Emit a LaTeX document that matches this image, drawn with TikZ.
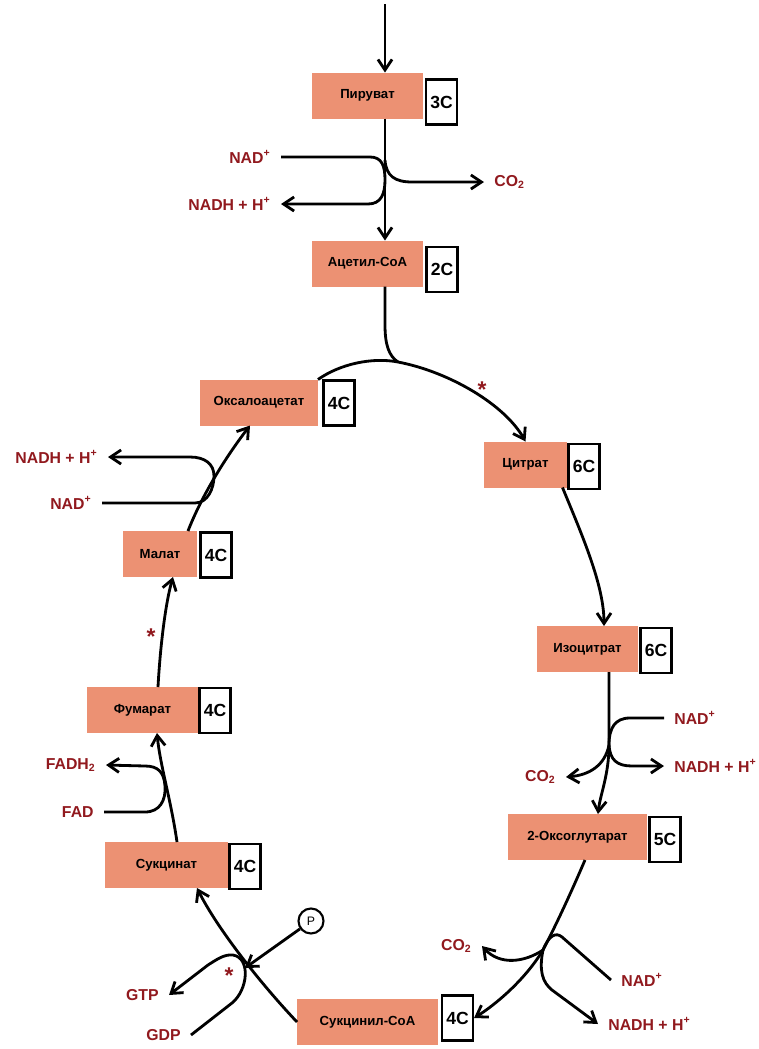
\documentclass[tikz,border=0pt]{standalone}
\usepackage{fontspec}
\setmainfont{Liberation Sans}
\usetikzlibrary{arrows.meta}
\definecolor{salmon}{RGB}{236,145,115}
\definecolor{darkred}{RGB}{145,25,30}

\begin{document}
\begin{tikzpicture}[x=0.02cm, y=-0.02cm, >={Straight Barb[length=6pt,width=8pt]}, line width=1.6pt,
  box/.style={fill=salmon, minimum height=0.92cm, inner sep=0pt, outer sep=0pt, font=\fontsize{7.5}{8}\selectfont\bfseries},
  cnt/.style={draw, line width=1.2pt, fill=white, minimum width=0.62cm, minimum height=0.9cm, inner sep=0pt, font=\fontsize{10}{12}\selectfont\bfseries},
  lbl/.style={text=darkred, inner xsep=0.18cm, inner ysep=1pt, font=\fontsize{9}{10}\selectfont\bfseries},
  star/.style={text=darkred, font=\fontsize{13}{13}\selectfont\bfseries, inner sep=0pt}]
\useasboundingbox (0,0) rectangle (758,1049);

\node[box, minimum width=2.22cm] (pyr) at (367.5,95.5) {Пируват};
\node[cnt] (pyrc) at (441.5,102) {3C};
\node[box, minimum width=2.22cm] (acet) at (367.5,263.5) {Ацетил-СоА};
\node[cnt] (acetc) at (442,269.5) {2C};
\node[box, minimum width=2.36cm] (oxal) at (259,402.5) {Оксалоацетат};
\node[cnt] (oxalc) at (339,403) {4C};
\node[box, minimum width=1.66cm] (cit) at (525.5,464.5) {Цитрат};
\node[cnt] (citc) at (584,466.5) {6C};
\node[box, minimum width=2.02cm] (iso) at (587.5,649) {Изоцитрат};
\node[cnt] (isoc) at (656,650.5) {6C};
\node[box, minimum width=2.78cm] (oxo) at (577.5,837) {2-Оксоглутарат};
\node[cnt] (oxoc) at (665,839.5) {5C};
\node[box, minimum width=2.82cm] (sca) at (367.5,1022) {Сукцинил-СоА};
\node[cnt] (scac) at (457.5,1018) {4C};
\node[box, minimum width=2.46cm] (suc) at (166.5,865) {Сукцинат};
\node[cnt] (succ) at (245,866.5) {4C};
\node[box, minimum width=2.22cm] (fum) at (142.5,710) {Фумарат};
\node[cnt] (fumc) at (215,710.5) {4C};
\node[box, minimum width=1.48cm] (mal) at (160,554) {Малат};
\node[cnt] (malc) at (216,555) {4C};

\coordinate (ax) at (385,4);
\draw[->] (ax) -- (ax |- pyr.north);
\draw[->] (ax |- pyr.south) -- (ax |- acet.north);

\node[lbl, anchor=east] (nadA) at (281,157) {NAD\textsuperscript{+}};
\node[lbl, anchor=east] (nhA) at (281,204) {NADH + H\textsuperscript{+}};
\node[lbl, anchor=west] (co2A) at (484,182) {CO\textsubscript{2}};
\coordinate (jA) at (385,160);
\draw[->] (nadA.east) -- (370,157) .. controls (382,157) and (385,166) .. (385,180) .. controls (385,194) and (381,204) .. (368,204) -- (nhA.east);
\draw[->] (jA) .. controls (386,176) and (395,182) .. (412,182) -- (co2A.west);

\coordinate (jB) at (398,362);
\draw[->] (oxal.north east) .. controls (340,364) and (372,357) .. (jB) .. controls (450,372) and (505,405) .. (cit.north);
\draw (ax |- acet.south) -- (385,325) .. controls (385,345) and (389,356) .. (jB);
\node[star] (s1) at (482,390) {*};

\draw[->] ([xshift=0.74cm]cit.south) .. controls (582,535) and (604,585) .. ([xshift=0.33cm]iso.north);

\node[lbl, anchor=west] (nadB) at (664,718) {NAD\textsuperscript{+}};
\node[lbl, anchor=west] (nhB) at (664,766) {NADH + H\textsuperscript{+}};
\node[lbl, anchor=east] (co2B) at (566,777) {CO\textsubscript{2}};
\coordinate (jC) at (609,745);
\draw[->] ([xshift=0.43cm]iso.south) -- (jC) .. controls (609,775) and (600,795) .. ([xshift=0.41cm]oxo.north);
\draw (nadB.west) -- (630,718) .. controls (615,718) and (609,728) .. (jC);
\draw[->] (jC) .. controls (610,760) and (617,766) .. (632,766) -- (nhB.west);
\draw[->] (jC) .. controls (605,765) and (590,775) .. (co2B.east);

\node[lbl, anchor=west] (nadC) at (611,980) {NAD\textsuperscript{+}};
\node[lbl, anchor=west] (nhC) at (598,1024) {NADH + H\textsuperscript{+}};
\node[lbl, anchor=east] (co2C) at (482,946) {CO\textsubscript{2}};
\coordinate (jD) at (543,950);
\draw[->] ([xshift=0.15cm]oxo.south) .. controls (570,895) and (556,925) .. (jD) .. controls (525,980) and (495,1005) .. (scac.east);
\draw (nadC.west) -- (562,937) .. controls (556,932) and (549,935) .. (jD);
\draw[->] (jD) .. controls (539,970) and (542,982) .. (552,990) -- (nhC.west);
\draw[->] (jD) .. controls (525,962) and (500,966) .. (co2C.east);

\coordinate (jE) at (245,968);
\draw[->] (sca.west) .. controls (262,985) and (218,930) .. ([xshift=0.61cm]suc.south);
\node[draw, circle, line width=1.2pt, minimum size=0.5cm, inner sep=0pt, font=\fontsize{7}{8}\selectfont] (pnode) at (311,921) {P};
\draw[->] (pnode) -- (jE);
\node[lbl, anchor=east] (gtp) at (169,995) {GTP};
\node[lbl, anchor=east] (gdp) at (191,1035) {GDP};
\draw[->] (gdp.east) -- (232,1003) .. controls (248,990) and (251,958) .. (233,955) .. controls (224,954) and (216,960) .. (208,965) -- (gtp.east);
\node[star] (s2) at (229,976) {*};

\draw[->] ([xshift=0.21cm]suc.north) .. controls (171,800) and (160,765) .. ([xshift=0.29cm]fum.south);
\node[lbl, anchor=east] (fadh) at (106,765) {FADH\textsubscript{2}};
\node[lbl, anchor=east] (fad) at (104,812) {FAD};
\draw[->] (fad.east) -- (145,812) .. controls (160,812) and (166,800) .. (165,786) .. controls (164,772) and (158,766) .. (145,766) -- (fadh.east);

\draw[->] ([xshift=0.31cm]fum.north) .. controls (160,650) and (165,605) .. ([xshift=0.26cm]mal.south);
\node[star] (s3) at (151,637) {*};

\draw[->] ([xshift=0.56cm]mal.north) .. controls (200,500) and (222,462) .. ([xshift=-0.18cm]oxal.south);
\node[lbl, anchor=east] (nhD) at (108,457) {NADH + H\textsuperscript{+}};
\node[lbl, anchor=east] (nadD) at (102,503) {NAD\textsuperscript{+}};
\draw[->] (nadD.east) -- (195,503) .. controls (208,503) and (214,488) .. (214,476) .. controls (214,464) and (205,457) .. (190,457) -- (nhD.east);
\end{tikzpicture}
\end{document}
